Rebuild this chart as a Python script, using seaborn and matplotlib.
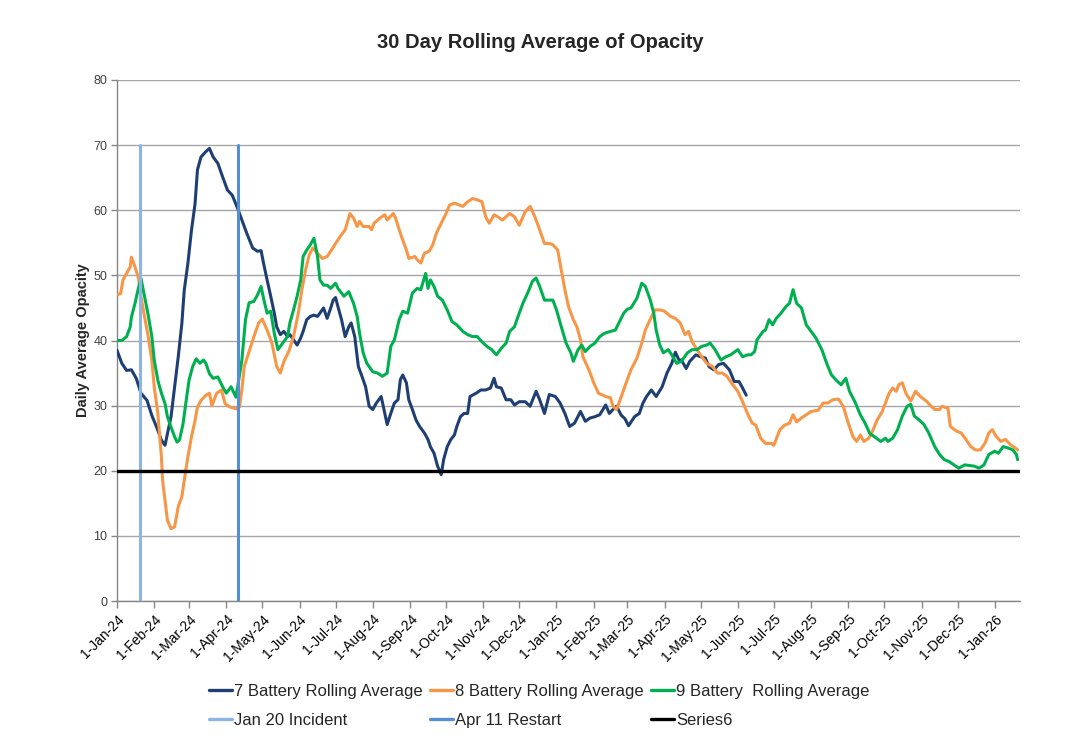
import matplotlib
matplotlib.use("Agg")
import matplotlib.pyplot as plt
import matplotlib.dates as mdates
from matplotlib.lines import Line2D
import seaborn as sns
import pandas as pd
import numpy as np

# ---------------- data (day offsets from 1-Jan-2024, daily average opacity) -------------
start_date = "2024-01-01"

b7_days = [0, 4, 8, 12, 16, 20, 25, 29, 33, 37, 40, 42, 45, 48, 51, 54, 56, 59, 62, 65, 67, 70, 74, 77, 80,
           84, 88, 92, 96, 100, 104, 108, 113, 117, 120, 122, 125, 128, 131, 133, 136, 139, 142, 144, 147,
           150, 153, 155, 158, 161, 164, 167, 169, 172, 175, 178, 180, 182, 184, 187, 190, 193, 195, 198,
           201, 204, 207, 210, 213, 216, 220, 223, 225, 228, 231, 234, 236, 238, 241, 243, 246, 249, 252,
           256, 259, 261, 264, 267, 270, 272, 275, 278, 281, 283, 286, 289, 292, 294, 299, 303, 307, 311,
           314, 316, 320, 324, 328, 331, 335, 340, 344, 349, 352, 356, 360, 365, 369, 373, 377, 381, 386,
           390, 394, 398, 402, 407, 410, 413, 416, 420, 423, 426, 431, 435, 438, 441, 445, 449, 454, 458,
           462, 465, 468, 470, 474, 477, 482, 486, 490, 493, 497, 501, 505, 510, 514, 518, 521, 524]
b7_vals = [38.5, 36.5, 35.4, 35.5, 34.2, 31.9, 30.8, 28.5, 26.7, 24.7, 23.9, 25.7, 28.3, 32.9, 37.5, 42.6,
           47.7, 51.8, 56.9, 61.0, 66.2, 68.2, 69.0, 69.5, 68.2, 67.2, 65.1, 63.1, 62.3, 60.5, 58.5, 56.5,
           54.2, 53.7, 53.8, 51.9, 49.3, 46.8, 44.2, 42.1, 40.9, 41.4, 40.6, 40.9, 40.1, 39.3, 40.4, 41.4,
           43.2, 43.7, 43.9, 43.7, 44.2, 45.0, 43.4, 45.0, 46.2, 46.6, 45.2, 43.2, 40.6, 42.1, 42.7, 40.6,
           36.0, 34.5, 32.9, 29.9, 29.4, 30.4, 31.4, 28.8, 27.1, 28.8, 30.4, 30.9, 34.0, 34.7, 33.5, 30.9,
           29.4, 27.8, 26.8, 25.8, 24.8, 23.7, 22.7, 20.7, 19.4, 21.7, 23.7, 24.8, 25.5, 26.8, 28.3, 28.8,
           28.8, 31.4, 31.9, 32.4, 32.4, 32.7, 34.2, 32.9, 32.7, 30.9, 30.9, 30.1, 30.6, 30.6, 29.9, 32.2,
           30.9, 28.8, 31.7, 31.4, 30.4, 28.8, 26.8, 27.3, 29.1, 27.6, 28.1, 28.3, 28.6, 30.1, 28.8, 29.4,
           29.9, 28.5, 28.0, 26.9, 28.3, 28.8, 30.4, 31.4, 32.4, 31.4, 32.9, 35.0, 36.5, 38.2, 37.0, 37.0,
           35.7, 36.8, 37.8, 37.5, 37.3, 36.0, 35.5, 36.3, 36.5, 35.5, 33.7, 33.7, 32.7, 31.6]

b8_days = [0, 3, 5, 8, 11, 12, 15, 18, 20, 23, 26, 29, 31, 34, 37, 38, 40, 42, 45, 48, 51, 54, 56, 59, 62,
           65, 67, 70, 74, 77, 79, 83, 87, 90, 94, 99, 102, 104, 106, 110, 114, 118, 121, 125, 129, 133,
           136, 139, 143, 147, 151, 154, 157, 160, 163, 167, 171, 175, 178, 182, 186, 190, 194, 197, 200,
           202, 205, 210, 212, 214, 219, 223, 225, 230, 232, 235, 238, 241, 243, 248, 250, 253, 256, 260,
           263, 266, 270, 274, 277, 281, 285, 288, 292, 296, 300, 304, 307, 310, 314, 317, 321, 327, 331,
           335, 340, 344, 348, 352, 356, 360, 363, 367, 370, 373, 376, 380, 383, 386, 388, 393, 397, 401,
           407, 411, 413, 416, 420, 424, 428, 433, 437, 440, 444, 448, 452, 456, 461, 465, 469, 473, 476,
           479, 483, 487, 491, 496, 500, 504, 508, 512, 517, 521, 525, 529, 532, 536, 540, 545, 547, 552,
           556, 560, 563, 566, 570, 574, 578, 584, 588, 592, 596, 601, 605, 609, 613, 616, 619, 622, 626,
           629, 633, 637, 641, 643, 646, 649, 651, 654, 657, 661, 665, 669, 674, 678, 681, 685, 687, 692,
           694, 699, 703, 707, 711, 715, 719, 723, 726, 729, 732, 736, 740, 744, 748, 750]
b8_vals = [47.0, 47.2, 49.3, 50.3, 51.3, 52.8, 51.3, 49.5, 46.7, 43.6, 40.6, 37.0, 32.9, 28.8, 22.1, 18.5,
           15.5, 12.4, 11.1, 11.4, 14.5, 16.0, 18.5, 22.1, 25.2, 27.7, 29.8, 30.8, 31.6, 31.9, 30.0, 31.9,
           32.4, 30.3, 29.8, 29.5, 29.8, 32.5, 36.0, 38.3, 40.6, 42.7, 43.3, 41.6, 39.6, 36.0, 35.0, 36.8,
           38.3, 40.6, 44.2, 47.8, 50.8, 53.1, 54.2, 53.4, 52.6, 52.9, 53.7, 54.9, 56.0, 57.0, 59.5, 58.8,
           57.5, 58.3, 57.5, 57.5, 57.0, 58.0, 58.8, 59.3, 58.5, 59.5, 58.8, 57.0, 55.4, 53.9, 52.6, 52.9,
           52.4, 51.9, 53.4, 53.7, 54.7, 56.5, 58.0, 59.5, 60.8, 61.1, 60.8, 60.6, 61.3, 61.8, 61.6, 61.3,
           59.0, 58.0, 59.3, 59.0, 58.5, 59.5, 59.0, 57.7, 59.8, 60.6, 59.0, 57.0, 54.9, 54.9, 54.7, 53.9,
           50.8, 47.8, 45.2, 43.2, 42.1, 40.1, 37.5, 35.5, 33.5, 31.9, 31.4, 31.2, 29.9, 29.4, 31.4, 33.5,
           35.5, 37.3, 39.6, 41.6, 43.2, 44.7, 44.7, 44.5, 43.7, 43.4, 42.7, 40.9, 41.4, 39.8, 38.6, 37.5,
           36.5, 36.0, 35.0, 35.0, 34.5, 33.4, 32.2, 30.6, 28.8, 27.3, 27.0, 25.0, 24.2, 24.2, 23.9, 26.3,
           27.0, 27.3, 28.6, 27.5, 28.1, 28.6, 29.1, 29.3, 30.4, 30.4, 30.9, 31.0, 29.8, 27.3, 25.2, 24.5,
           25.5, 24.5, 25.0, 26.0, 27.8, 29.0, 30.9, 31.9, 32.7, 32.2, 33.2, 33.5, 31.9, 30.7, 32.2, 31.4,
           30.7, 29.9, 29.4, 29.4, 29.9, 29.6, 26.8, 26.1, 25.8, 24.8, 23.7, 23.2, 23.2, 24.3, 25.8, 26.3,
           25.3, 24.5, 24.8, 24.0, 23.5, 23.2]

b9_days = [0, 4, 8, 11, 12, 15, 18, 20, 23, 26, 29, 31, 34, 37, 40, 42, 45, 48, 50, 52, 55, 58, 60, 63, 66,
           69, 72, 74, 77, 80, 84, 88, 91, 95, 99, 101, 104, 107, 110, 114, 117, 120, 122, 125, 128, 131,
           134, 138, 142, 144, 147, 150, 153, 155, 158, 161, 164, 167, 169, 172, 175, 178, 182, 184, 189,
           193, 197, 200, 202, 205, 208, 210, 213, 217, 221, 225, 228, 231, 235, 238, 242, 246, 250, 253,
           257, 259, 261, 264, 267, 271, 275, 279, 283, 288, 292, 296, 300, 304, 308, 312, 316, 320, 324,
           327, 331, 334, 338, 342, 346, 349, 352, 356, 360, 363, 366, 370, 374, 378, 380, 384, 387, 390,
           394, 398, 402, 406, 411, 415, 418, 422, 425, 428, 433, 437, 440, 444, 447, 449, 452, 455, 459,
           462, 466, 470, 475, 479, 483, 487, 491, 494, 498, 503, 507, 511, 517, 521, 525, 528, 531, 533,
           538, 540, 543, 546, 549, 553, 557, 560, 563, 566, 570, 574, 578, 582, 587, 591, 595, 599, 603,
           607, 610, 615, 619, 623, 627, 631, 636, 640, 642, 646, 650, 654, 658, 661, 664, 668, 672, 676,
           681, 685, 689, 693, 697, 701, 706, 710, 714, 718, 722, 726, 731, 734, 738, 742, 746, 749, 750]
b9_vals = [40.0, 40.0, 40.6, 42.1, 43.6, 45.7, 48.2, 49.5, 46.7, 43.9, 40.6, 37.0, 33.9, 31.9, 30.3, 28.3,
           26.7, 25.2, 24.4, 24.7, 27.2, 31.3, 33.9, 36.0, 37.2, 36.5, 37.0, 36.5, 34.9, 34.2, 34.4, 32.9,
           31.9, 32.9, 31.3, 33.5, 37.0, 43.2, 45.8, 46.0, 47.0, 48.3, 46.5, 44.2, 44.5, 41.1, 38.6, 39.6,
           40.6, 42.7, 44.7, 46.8, 49.3, 52.9, 53.9, 54.7, 55.7, 52.9, 49.3, 48.5, 48.5, 48.0, 48.8, 48.0,
           46.8, 47.5, 45.7, 43.7, 41.1, 38.1, 36.5, 36.0, 35.2, 35.0, 34.5, 35.0, 39.1, 40.1, 43.2, 44.5,
           44.2, 47.3, 48.0, 47.8, 50.3, 48.0, 49.3, 48.3, 46.8, 46.2, 44.7, 42.9, 42.4, 41.4, 40.9, 40.6,
           40.6, 39.8, 39.1, 38.6, 37.8, 38.8, 39.6, 41.4, 42.1, 43.7, 45.7, 47.3, 49.1, 49.6, 48.3, 46.2,
           46.2, 46.2, 44.7, 42.1, 39.6, 38.1, 36.8, 38.6, 39.3, 38.3, 39.1, 39.6, 40.6, 41.1, 41.4, 41.6,
           42.7, 44.2, 44.8, 45.0, 46.5, 48.8, 48.3, 46.3, 44.2, 41.6, 39.3, 38.1, 38.6, 37.8, 36.5, 36.8,
           38.1, 38.6, 38.6, 39.1, 39.3, 39.6, 38.6, 37.0, 37.5, 37.8, 38.6, 37.5, 37.8, 37.8, 38.3, 40.1,
           41.4, 41.6, 43.2, 42.4, 43.4, 44.2, 45.2, 45.7, 47.8, 45.7, 45.0, 42.4, 41.4, 40.4, 38.6, 36.5,
           34.7, 33.9, 33.2, 34.2, 32.2, 30.4, 28.6, 27.3, 25.7, 25.2, 24.5, 25.0, 24.5, 25.0, 26.3, 28.4,
           29.9, 30.2, 28.4, 27.8, 27.1, 25.8, 23.7, 22.5, 21.7, 21.4, 20.9, 20.4, 20.9, 20.8, 20.7, 20.4,
           20.9, 22.5, 23.0, 22.7, 23.7, 23.5, 23.2, 22.5, 21.7]

incident_date = "2024-01-20"
restart_date = "2024-04-11"
marker_top = 70
series6_value = 20
axis_end_day = 752

labels = ["7 Battery Rolling Average", "8 Battery Rolling Average", "9 Battery  Rolling Average",
          "Jan 20 Incident", "Apr 11 Restart", "Series6"]
colors = ["#1F3F73", "#F79646", "#00B050", "#8DB4E2", "#558ED5", "#000000"]

# ---------------- build frames ----------------
t0 = pd.Timestamp(start_date)
def to_dates(days):
    return t0 + pd.to_timedelta(np.array(days), unit="D")

frames = []
for lab, d, v in zip(labels[:3], [b7_days, b8_days, b9_days], [b7_vals, b8_vals, b9_vals]):
    frames.append(pd.DataFrame({"date": to_dates(d), "value": v, "series": lab}))
df = pd.concat(frames, ignore_index=True)

# ---------------- plot ----------------
sns.set_theme(style="white")
plt.rcParams["font.family"] = ["Liberation Sans", "DejaVu Sans"]

fig = plt.figure(figsize=(10.76, 7.39), dpi=100)
ax = fig.add_axes([117/1076, 1 - 601/739, (1020 - 117)/1076, (601 - 80)/739])

for i, lab in enumerate(labels[:3]):
    sub = df[df["series"] == lab]
    sns.lineplot(data=sub, x="date", y="value", ax=ax, color=colors[i], linewidth=2.2,
                 legend=False, zorder=3 + i)

x_end = t0 + pd.Timedelta(days=axis_end_day)
ax.plot([pd.Timestamp(incident_date)] * 2, [0, marker_top], color=colors[3], linewidth=2.2, zorder=7)
ax.plot([pd.Timestamp(restart_date)] * 2, [0, marker_top], color=colors[4], linewidth=2.2, zorder=7)
ax.plot([t0, x_end], [series6_value] * 2, color=colors[5], linewidth=2.4, zorder=8)

ax.set_xlim(t0, x_end)
ax.set_ylim(0, 80)
ax.set_yticks(range(0, 81, 10))
ax.yaxis.grid(True, color="#A6A6A6", linewidth=1.0)
ax.xaxis.grid(False)
ax.set_axisbelow(True)

ax.xaxis.set_major_locator(mdates.MonthLocator(bymonthday=1))
ax.xaxis.set_major_formatter(mdates.DateFormatter("%-d-%b-%y"))
for lbl in ax.get_xticklabels():
    lbl.set_rotation(45)
    lbl.set_ha("right")
    lbl.set_rotation_mode("anchor")

ax.tick_params(axis="x", which="major", bottom=True, length=5, width=1, color="#868686",
               labelsize=10, labelcolor="#000000", pad=3)
ax.tick_params(axis="y", which="major", left=True, length=4, width=1, color="#868686",
               labelsize=9, labelcolor="#404040", pad=3)

for s in ["top", "right"]:
    ax.spines[s].set_visible(False)
for s in ["left", "bottom"]:
    ax.spines[s].set_color("#868686")
    ax.spines[s].set_linewidth(1.0)

ax.set_xlabel("")
ax.set_ylabel("Daily Average Opacity", fontsize=10.5, fontweight="bold", labelpad=2)

fig.text(0.502, 1 - 42/739, "30 Day Rolling Average of Opacity", ha="center", va="center",
         fontsize=14.5, fontweight="bold")

handles = [Line2D([], [], color=c, linewidth=2.4) for c in colors]
order = [0, 3, 1, 4, 2, 5]
fig.legend([handles[i] for i in order], [labels[i] for i in order], ncol=3,
           loc="center", bbox_to_anchor=(0.501, 1 - 706/739), frameon=False, fontsize=12,
           handlelength=1.4, handletextpad=0.1, columnspacing=0.45, labelspacing=0.82)

fig.savefig("out.png", dpi=100)
